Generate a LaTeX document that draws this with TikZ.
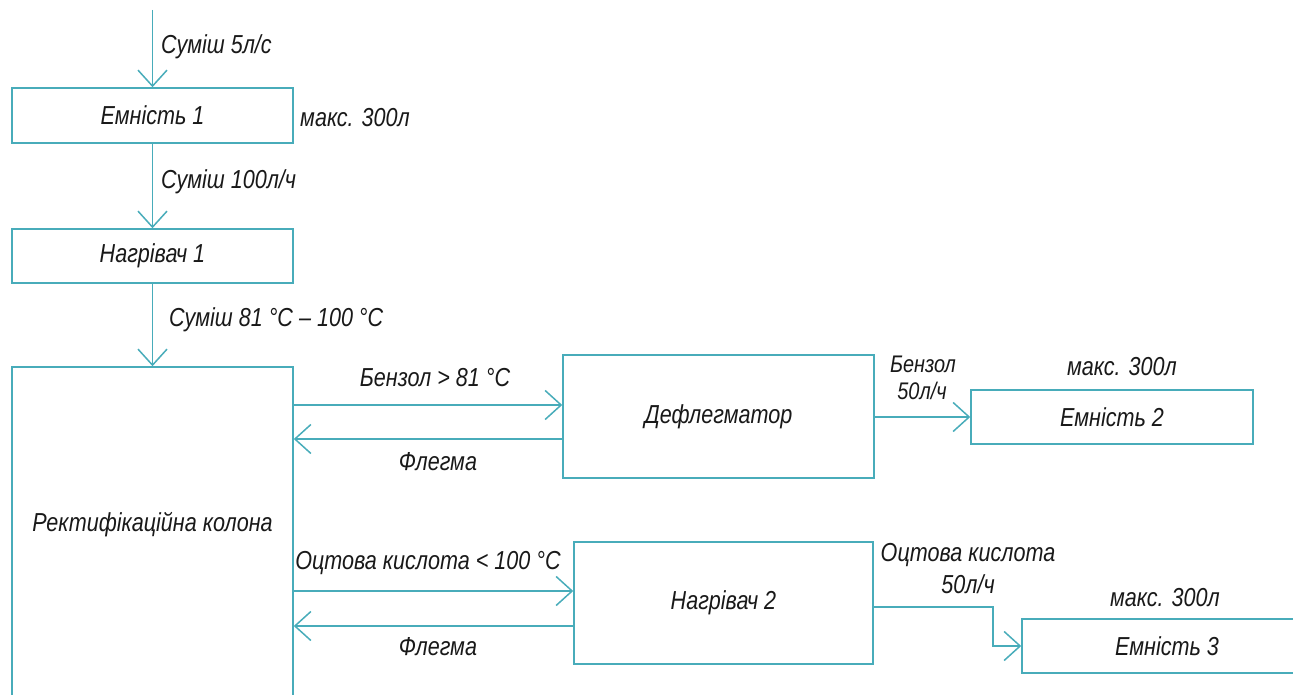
\documentclass[tikz,border=0pt]{standalone}
\usepackage{fontspec}
\setmainfont{Liberation Sans}[FakeStretch=0.83]
\usetikzlibrary{arrows.meta}
\definecolor{pipe}{RGB}{72,172,186}
\definecolor{ink}{RGB}{25,25,25}
\tikzset{
  unit/.style={draw=pipe, line width=1.5pt, fill=white, inner sep=0pt,
               text=ink, font=\itshape\fontsize{26}{30}\selectfont},
  note/.style={inner sep=0pt, text=ink, font=\itshape\fontsize{26}{30}\selectfont},
  flow/.style={draw=pipe, line width=1.5pt,
               -{Straight Barb[length=16pt, width=29pt, line width=1.5pt]}}
}
\begin{document}
\begin{tikzpicture}[x=1pt, y=-1pt]
\useasboundingbox (0,0) rectangle (1293,695);
\clip (0,0) rectangle (1293,695);

% process units
\node[unit, minimum width=281pt, minimum height=55pt] (e1) at (152.5,115.5) {Емність 1};
\node[unit, minimum width=281pt, minimum height=54pt] (h1) at (152.5,256) {Нагрівач 1};
\node[unit, minimum width=281pt, minimum height=386pt] (col) at (152.5,560) {};
\node[note] (colt) at (152.5,525) {Ректифікаційна колона};
\node[unit, minimum width=311pt, minimum height=123pt] (defl) at (718.5,416.5) {Дефлегматор};
\node[unit, minimum width=282pt, minimum height=54pt] (e2) at (1112,417) {Емність 2};
\node[unit, minimum width=299pt, minimum height=122pt] (h2) at (723.5,603) {Нагрівач 2};
\node[unit, minimum width=290pt, minimum height=54pt] (e3) at (1167,646) {Емність 3};

% helper coordinates for the stream levels
\coordinate (in) at (152.5,10);
\coordinate (yb) at (0,405);
\coordinate (yf1) at (0,439);
\coordinate (ya) at (0,591);
\coordinate (yf2) at (0,626);
\coordinate (ye3) at (0,607);
\coordinate (bend) at (993,0);

% streams
\draw[flow] (in) -- (e1.north);
\draw[flow] (e1.south) -- (h1.north);
\draw[flow] (h1.south) -- (col.north);
\draw[flow] (col.east |- yb) -- (defl.west |- yb);
\draw[flow] (defl.west |- yf1) -- (col.east |- yf1);
\draw[flow] (defl.east |- e2.west) -- (e2.west);
\draw[flow] (col.east |- ya) -- (h2.west |- ya);
\draw[flow] (h2.west |- yf2) -- (col.east |- yf2);
\draw[flow] (h2.east |- ye3) -- (bend |- ye3) |- (e3.west);

% stream and capacity labels
\node[note, anchor=west] (l1) at (161,47) {Суміш 5л/с};
\node[note, anchor=west] (m1) at (300,118) {макс. 300л};
\node[note, anchor=west] (l2) at (161,182) {Суміш 100л/ч};
\node[note, anchor=west] (l3) at (169,320) {Суміш 81 °C – 100 °C};
\node[note] (l4) at (435,378) {Бензол > 81 °C};
\node[note] (l5) at (438,462) {Флегма};
\node[note, font=\itshape\fontsize{24}{28}\selectfont] (l6a) at (923,364) {Бензол};
\node[note, font=\itshape\fontsize{24}{28}\selectfont] (l6b) at (922,391) {50л/ч};
\node[note] (m2) at (1122,367) {макс. 300л};
\node[note] (l7) at (428,563) {Оцтова кислота < 100 °C};
\node[note] (l8) at (438,647) {Флегма};
\node[note, align=center, font=\itshape\fontsize{26}{32}\selectfont] (l9) at (968,569) {Оцтова кислота\\50л/ч};
\node[note] (m3) at (1165,598) {макс. 300л};
\end{tikzpicture}
\end{document}
